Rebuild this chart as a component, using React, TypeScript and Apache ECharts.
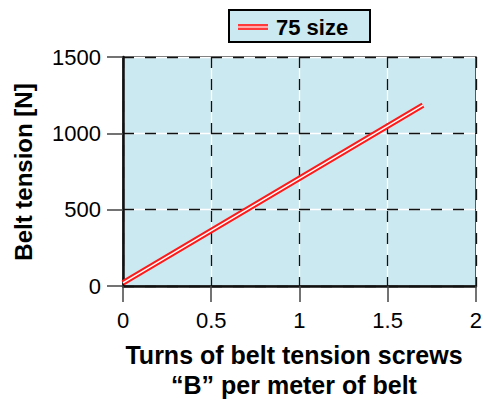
import React, { useEffect, useRef } from "react";
import * as echarts from "echarts";

const seriesName = "75 size";
const turns = [0, 1.7];
const tension = [20, 1185];
const xTicks = [0, 0.5, 1, 1.5, 2];
const yTicks = [0, 500, 1000, 1500];
const xTitle = ["Turns of belt tension screws", "\u201cB\u201d per meter of belt"];
const yTitle = "Belt tension [N]";

const FONT = "'Liberation Sans', Arial, sans-serif";
const BG = "#cbe9f0";

export default function App() {
  const ref = useRef<HTMLDivElement>(null);
  useEffect(() => {
    if (!ref.current) return;
    const chart = echarts.init(ref.current, null, { renderer: "svg" });
    const data = turns.map((t, i) => [t, tension[i]]);
    const axisCommon = {
      type: "value" as const,
      min: xTicks[0],
      max: xTicks[xTicks.length - 1],
      interval: 0.5,
    };
    const yCommon = {
      type: "value" as const,
      min: yTicks[0],
      max: yTicks[yTicks.length - 1],
      interval: 500,
    };
    chart.setOption({
      animation: false,
      grid: {
        left: 123,
        right: 9,
        top: 57,
        bottom: 114,
        show: true,
        backgroundColor: BG,
        borderColor: "#222",
        borderWidth: 1.5,
      },
      xAxis: [
        {
          ...axisCommon,
          z: 1,
          axisLine: { show: true, lineStyle: { color: "#111", width: 2.5 } },
          axisTick: { show: true, inside: false, length: 16, lineStyle: { color: "#444", width: 1.5 } },
          axisLabel: {
            margin: 23,
            fontSize: 22,
            color: "#000",
            fontFamily: FONT,
            formatter: (v: number) => String(v),
          },
          splitLine: { show: true, lineStyle: { color: "#111", width: 1.3, type: [11, 11] } },
        },
        {
          ...axisCommon,
          z: 0,
          axisLine: { show: false },
          axisTick: { show: false },
          axisLabel: { show: false },
          splitLine: { show: true, lineStyle: { color: "#fff", width: 1.3 } },
        },
      ],
      yAxis: [
        {
          ...yCommon,
          z: 1,
          axisLine: { show: true, lineStyle: { color: "#111", width: 2.5 } },
          axisTick: { show: true, inside: false, length: 16, lineStyle: { color: "#444", width: 1.5 } },
          axisLabel: {
            margin: 22,
            fontSize: 22,
            color: "#000",
            fontFamily: FONT,
            formatter: (v: number) => String(v),
          },
          splitLine: { show: true, lineStyle: { color: "#111", width: 1.3, type: [11, 11] } },
        },
        {
          ...yCommon,
          z: 0,
          axisLine: { show: false },
          axisTick: { show: false },
          axisLabel: { show: false },
          splitLine: { show: true, lineStyle: { color: "#fff", width: 1.3 } },
        },
      ],
      series: [
        {
          name: seriesName,
          type: "line",
          data,
          symbol: "none",
          lineStyle: { color: "#ff1a1a", width: 5.5 },
          z: 3,
        },
        {
          name: seriesName + " inner",
          type: "line",
          data,
          symbol: "none",
          lineStyle: { color: "#ffffff", width: 1.5 },
          z: 4,
        },
      ],
      graphic: [
        {
          type: "rect",
          shape: { x: 229, y: 10, width: 141, height: 32 },
          style: { fill: BG, stroke: "#000", lineWidth: 2 },
        },
        {
          type: "line",
          shape: { x1: 238, y1: 27, x2: 268, y2: 27 },
          style: { stroke: "#ff3a3a", lineWidth: 6 },
        },
        {
          type: "line",
          shape: { x1: 238, y1: 27, x2: 268, y2: 27 },
          style: { stroke: "#ffd0d0", lineWidth: 1.5 },
        },
        {
          type: "text",
          x: 276,
          y: 27,
          style: {
            text: seriesName,
            font: `bold 22px ${FONT}`,
            fill: "#000",
            verticalAlign: "middle",
          },
        },
        {
          type: "text",
          x: 23,
          y: 172,
          rotation: Math.PI / 2,
          style: {
            text: yTitle,
            font: `bold 24px ${FONT}`,
            fill: "#000",
            align: "center",
            verticalAlign: "middle",
          },
        },
        {
          type: "text",
          x: 294,
          y: 355,
          style: {
            text: xTitle[0],
            font: `bold 25px ${FONT}`,
            fill: "#000",
            align: "center",
            verticalAlign: "middle",
          },
        },
        {
          type: "text",
          x: 294,
          y: 385,
          style: {
            text: xTitle[1],
            font: `bold 25px ${FONT}`,
            fill: "#000",
            align: "center",
            verticalAlign: "middle",
          },
        },
      ],
    });
    return () => chart.dispose();
  }, []);
  return (
    <div
      ref={ref}
      style={{ position: "absolute", left: 0, top: 0, width: 485, height: 400 }}
    />
  );
}
